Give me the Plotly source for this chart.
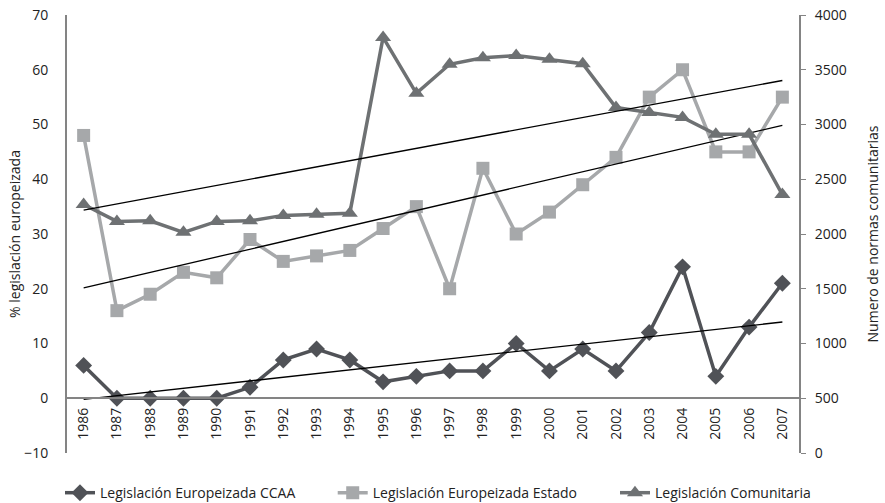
import numpy as np
import plotly.graph_objects as go

years = [str(y) for y in range(1986, 2008)]
ccaa = [6, 0, 0, 0, 0, 2, 7, 9, 7, 3, 4, 5, 5, 10, 5, 9, 5, 12, 24, 4, 13, 21]
estado = [48, 16, 19, 23, 22, 29, 25, 26, 27, 31, 35, 20, 42, 30, 34, 39, 44, 55, 60, 45, 45, 55]
comunitaria = [2270, 2115, 2120, 2015, 2115, 2120, 2170, 2180, 2190, 3795, 3285, 3550,
               3610, 3630, 3595, 3555, 3155, 3110, 3065, 2910, 2910, 2360]

FONT = "Open Sans, sans-serif"
C_CCAA = "#505257"
C_EST = "#a6a8aa"
C_COM = "#6e7173"
AX = "#848484"

idx = np.arange(len(years))


def trend(vals):
    m, b = np.polyfit(idx, vals, 1)
    return list(m * idx + b)


fig = go.Figure()
fig.add_trace(go.Scatter(x=years, y=ccaa, mode="lines+markers", name="Legislación Europeizada CCAA",
                         legend="legend",
                         line=dict(color=C_CCAA, width=3.5),
                         marker=dict(symbol="diamond", size=13, color=C_CCAA)))
fig.add_trace(go.Scatter(x=years, y=estado, mode="lines+markers", name="Legislación Europeizada Estado",
                         legend="legend2",
                         line=dict(color=C_EST, width=3.5),
                         marker=dict(symbol="square", size=13, color=C_EST)))
fig.add_trace(go.Scatter(x=years, y=comunitaria, mode="lines+markers", name="Legislación Comunitaria",
                         legend="legend3",
                         yaxis="y2", line=dict(color=C_COM, width=3.5),
                         marker=dict(symbol="triangle-up", size=14, color=C_COM)))
# linear trend lines
fig.add_trace(go.Scatter(x=years, y=trend(ccaa), mode="lines", showlegend=False,
                         line=dict(color="black", width=1.3), hoverinfo="skip"))
fig.add_trace(go.Scatter(x=years, y=trend(estado), mode="lines", showlegend=False,
                         line=dict(color="black", width=1.3), hoverinfo="skip"))
fig.add_trace(go.Scatter(x=years, y=trend(comunitaria), mode="lines", showlegend=False, yaxis="y2",
                         line=dict(color="black", width=1.3), hoverinfo="skip"))

leg = dict(orientation="h", xanchor="left", y=-0.055, yanchor="top", font=dict(size=14))

fig.update_layout(
    width=885, height=503,
    margin=dict(l=67, r=86, t=15, b=50, autoexpand=False),
    paper_bgcolor="white", plot_bgcolor="white",
    font=dict(family=FONT, size=14, color="#222"),
    showlegend=True,
    legend=dict(leg, x=-0.0096),
    legend2=dict(leg, x=0.363),
    legend3=dict(leg, x=0.7486),
    xaxis=dict(type="category", range=[-0.5, 21.5], anchor="free", position=0.125,
               showline=True, linecolor=AX, linewidth=2, ticks="outside", ticklen=3,
               tickcolor="rgba(0,0,0,0)", automargin=False,
               tickangle=-90, showgrid=False, zeroline=False, tickfont=dict(size=14)),
    yaxis=dict(range=[-10, 70], dtick=10, showline=True, linecolor=AX, linewidth=2,
               ticks="", showgrid=False, zeroline=False, ticklabelstandoff=14, automargin=False,
               title=dict(text="% legislación europeizada", font=dict(size=14), standoff=0)),
    yaxis2=dict(range=[0, 4000], dtick=500, overlaying="y", side="right", showline=True,
                linecolor=AX, linewidth=2, ticks="outside", ticklen=5, tickcolor=AX,
                showgrid=False, zeroline=False, ticklabelstandoff=6, automargin=False,
                title=dict(text="Numero de normas comunitarias", font=dict(size=14), standoff=22)),
)

fig.write_html("out.html", config={"displayModeBar": False},
               post_script="document.body.style.margin='0';")
